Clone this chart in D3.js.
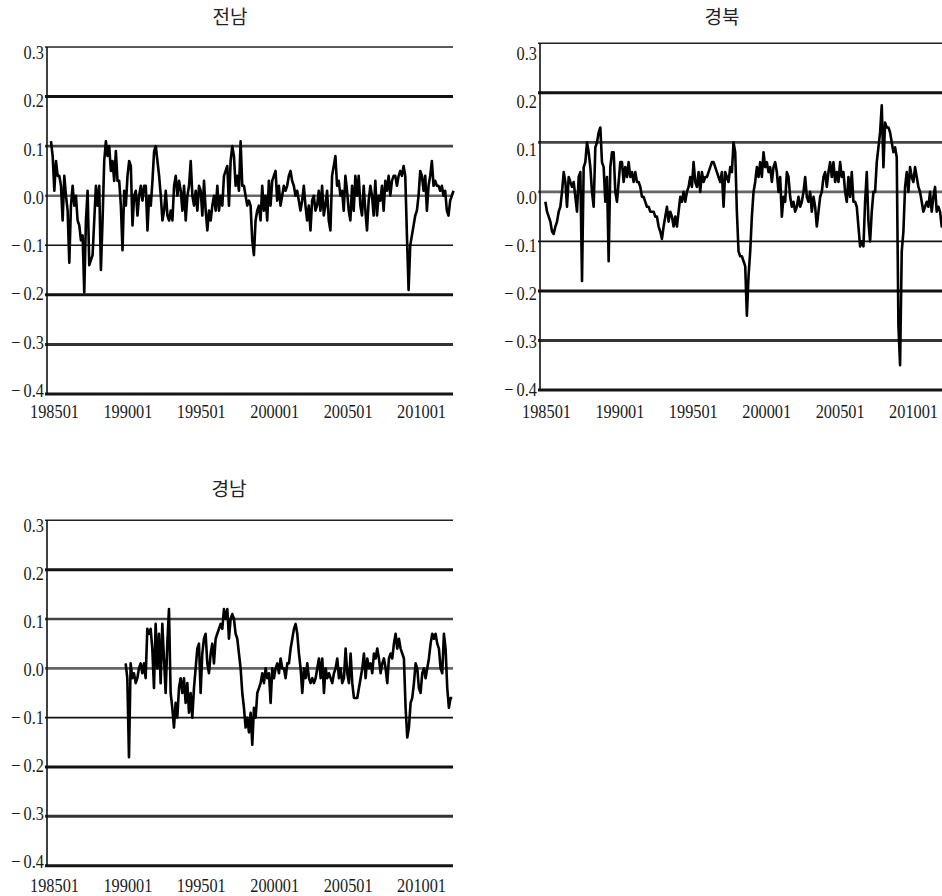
<!DOCTYPE html>
<html>
<head>
<meta charset="utf-8">
<script src="https://cdn.jsdelivr.net/npm/d3@7"></script>
<style>
  body { margin: 0; background: #fff; }
</style>
</head>
<body>
<div id="chart"></div>
<script>
// region names, x tick labels, y ticks
var regions = ['전남', '경북', '경남'];
var xTickLabels = ['198501', '199001', '199501', '200001', '200501', '201001'];
var yTicks = [0.3, 0.2, 0.1, 0.0, -0.1, -0.2, -0.3, -0.4];

// first and last month of each series (points are spread evenly between)
var seriesStart = ['198501', '198503', '199002'];
var seriesEnd = ['201206', '201207', '201205'];

// 전남
var jeonnam = [
  0.11, 0.08, 0.01, 0.07, 0.04, 0.04, 0.02, -0.05, 0.04, 0.0,
  -0.03, -0.135, -0.02, 0.02, -0.02, 0.0, -0.05, -0.06, -0.09, -0.08,
  -0.195, -0.05, 0.01, -0.14, -0.13, -0.12, -0.05, 0.02, -0.02, 0.02,
  -0.15, -0.05, 0.07, 0.11, 0.08, 0.10, 0.05, 0.07, 0.03, 0.09,
  0.03, 0.03, -0.02, -0.11, 0.01, -0.02, 0.04, 0.07, 0.06, -0.06,
  0.0, 0.01, -0.04, 0.0, 0.02, -0.01, 0.02, 0.02, -0.07, 0.0,
  -0.02, 0.03, 0.09, 0.10, 0.07, 0.04, 0.0, -0.05, -0.03, 0.01,
  -0.04, -0.05, -0.03, -0.05, 0.02, 0.04, 0.0, 0.03, 0.01, -0.03,
  0.02, -0.05, 0.0, 0.02, 0.07, 0.0, -0.02, 0.01, -0.03, 0.02,
  0.01, -0.04, 0.03, -0.03, -0.07, -0.03, -0.05, -0.02, 0.0, -0.03,
  0.02, -0.03, 0.0, -0.02, 0.04, 0.05, 0.06, -0.02, 0.07, 0.10,
  0.08, 0.02, 0.04, 0.01, 0.11, 0.02, 0.02, 0.0, -0.02, -0.01,
  -0.02, -0.09, -0.12, -0.05, -0.03, -0.02, -0.05, 0.02, -0.03, 0.0,
  -0.05, 0.03, -0.02, 0.03, 0.04, 0.05, -0.01, 0.02, -0.02, 0.0,
  0.02, 0.01, 0.02, 0.04, 0.05, 0.03, 0.02, 0.0, 0.01, -0.01,
  -0.03, -0.01, 0.02, -0.02, -0.05, -0.02, -0.07, -0.01, 0.0, -0.03,
  -0.02, 0.01, -0.03, 0.02, -0.04, -0.02, 0.01, -0.05, -0.07, 0.04,
  0.06, 0.08, 0.02, 0.03, 0.0, 0.01, -0.03, 0.04, 0.01, -0.03,
  -0.05, 0.02, -0.03, 0.04, 0.0, 0.04, -0.02, -0.04, 0.02, -0.03,
  -0.07, -0.01, 0.02, 0.0, -0.04, 0.03, -0.04, 0.0, -0.01, 0.02,
  -0.03, 0.03, 0.01, 0.04, 0.0, 0.03, 0.04, 0.04, 0.02, 0.04,
  0.05, 0.04, 0.06, 0.04, -0.08, -0.19, -0.10, -0.08, -0.06, -0.04,
  -0.03, 0.0, 0.05, 0.04, 0.01, 0.04, -0.03, 0.02, 0.04, 0.07,
  0.02, 0.03, 0.02, 0.02, 0.01, 0.02, 0.0, 0.01, -0.03, -0.04,
  -0.01, 0.0, 0.01
];

// 경북
var gyeongbuk = [
  -0.02, -0.04, -0.05, -0.06, -0.08, -0.085, -0.07, -0.06, -0.04, -0.03,
  0.0, 0.04, 0.02, -0.03, 0.03, 0.02, 0.01, 0.02, -0.01, -0.04,
  0.03, 0.04, -0.18, 0.05, 0.06, 0.10, 0.08, 0.05, 0.0, -0.03,
  0.09, 0.10, 0.12, 0.13, 0.06, 0.05, -0.02, 0.03, -0.14, 0.05,
  0.08, 0.08, 0.0, -0.02, 0.02, 0.06, 0.06, 0.02, 0.05, 0.03,
  0.06, 0.03, 0.04, 0.02, 0.04, 0.02, 0.02, 0.01, -0.01, -0.01,
  -0.02, -0.03, -0.03, -0.04, -0.04, -0.04, -0.05, -0.05, -0.07, -0.08,
  -0.095, -0.07, -0.05, -0.03, -0.06, -0.04, -0.05, -0.07, -0.05, -0.07,
  -0.04, -0.01, -0.02, 0.0, -0.02, 0.0, 0.01, 0.03, 0.01, 0.06,
  0.02, 0.01, 0.04, 0.0, 0.04, 0.02, 0.03, 0.03, 0.04, 0.05,
  0.06, 0.06, 0.05, 0.04, 0.03, 0.02, 0.04, -0.03, 0.04, 0.03,
  0.02, 0.05, 0.04, 0.10, 0.08, -0.04, -0.12, -0.13, -0.13, -0.14,
  -0.15, -0.25, -0.17, -0.12, -0.05, 0.0, 0.02, 0.05, 0.03, 0.06,
  0.03, 0.08, 0.05, 0.06, 0.04, 0.05, 0.02, 0.05, 0.06, 0.04,
  0.0, 0.03, -0.05, -0.01, -0.02, 0.04, 0.03, -0.01, -0.03, -0.02,
  -0.04, -0.03, -0.01, -0.03, -0.02, 0.0, 0.03, -0.01, -0.02, 0.0,
  -0.04, -0.01, -0.03, -0.07, -0.04, -0.01, 0.0, 0.03, 0.04, 0.01,
  0.04, 0.06, 0.03, 0.06, 0.02, 0.04, 0.02, 0.06, 0.03, 0.04,
  0.0, -0.02, 0.03, -0.01, 0.04, -0.02, -0.02, -0.03, -0.07, -0.11,
  -0.10, -0.11, -0.02, 0.04, -0.06, -0.10, -0.04, 0.0, 0.0, 0.06,
  0.09, 0.12, 0.175, 0.05, 0.14, 0.13, 0.13, 0.12, 0.10, 0.08,
  0.09, 0.07, -0.27, -0.35, -0.12, -0.08, 0.01, 0.04, 0.0, 0.05,
  0.03, 0.02, 0.05, 0.03, 0.01, 0.0, -0.02, -0.04, -0.03, -0.02,
  -0.03, 0.0, -0.04, -0.01, 0.01, -0.04, -0.03, -0.04, -0.07, -0.06,
  -0.07, -0.06
];

// 경남
var gyeongnam = [
  0.01, -0.02, -0.18, 0.01, -0.02, -0.01, -0.03, -0.02, 0.0, 0.01,
  -0.01, 0.01, -0.02, 0.08, 0.07, 0.08, 0.04, -0.04, 0.09, 0.0,
  0.07, -0.03, 0.09, 0.02, -0.05, 0.05, 0.12, -0.05, -0.08, -0.12,
  -0.07, -0.10, -0.04, -0.02, -0.05, -0.02, -0.07, -0.03, -0.09, -0.05,
  -0.10, -0.04, 0.0, 0.04, 0.05, -0.05, 0.03, 0.06, 0.07, 0.01,
  -0.01, 0.03, 0.05, 0.01, 0.06, 0.07, 0.08, 0.09, 0.08, 0.12,
  0.10, 0.12, 0.06, 0.10, 0.11, 0.10, 0.07, 0.06, 0.03, 0.0,
  -0.05, -0.08, -0.12, -0.10, -0.13, -0.09, -0.155, -0.08, -0.10, -0.05,
  -0.04, -0.03, -0.01, -0.03, 0.0, -0.02, -0.01, -0.07, 0.0, -0.02,
  0.0, 0.01, -0.01, 0.02, 0.0, 0.0, -0.02, 0.01, 0.01, 0.04,
  0.06, 0.08, 0.09, 0.07, 0.03, 0.0, -0.05, 0.0, -0.02, 0.01,
  -0.02, -0.03, -0.02, -0.03, -0.02, 0.0, 0.02, -0.02, 0.02, -0.05,
  0.0, -0.02, -0.01, -0.02, -0.03, -0.01, 0.0, 0.02, -0.02, 0.0,
  -0.03, -0.02, 0.04, -0.01, -0.03, 0.03, -0.03, -0.06, -0.06, -0.06,
  -0.04, -0.02, 0.0, 0.03, -0.02, 0.02, 0.0, 0.01, -0.01, 0.03,
  0.02, 0.04, 0.02, -0.01, 0.01, 0.02, 0.0, -0.03, 0.02, 0.03,
  0.02, 0.05, 0.07, 0.04, 0.06, 0.04, 0.03, 0.02, -0.08, -0.14,
  -0.12, -0.07, -0.06, -0.03, 0.01, 0.0, -0.04, -0.05, -0.01, 0.0,
  -0.02, 0.0, 0.02, 0.05, 0.07, 0.06, 0.07, 0.05, 0.04, 0.0,
  -0.01, 0.07, 0.04, -0.04, -0.08, -0.06, -0.06
];

var allSeries = [jeonnam, gyeongbuk, gyeongnam];

// layout of each panel (pixels)
var layout = [
  {axisX: 47, right: 453, x0: 51, yTop: 47, yBot: 394, labTop: 52, labBot: 389.7, titleX: 230, titleY: 17.5, xLabY: 411.5},
  {axisX: 540, right: 946, x0: 543, yTop: 43.3, yBot: 390, labTop: 53, labBot: 389, titleX: 722, titleY: 17.5, xLabY: 411},
  {axisX: 47, right: 453, x0: 51, yTop: 520.3, yBot: 865.7, labTop: 525, labBot: 861, titleX: 229, titleY: 489, xLabY: 885}
];

// gridline look per tick value [width, colour]
var gridLook = {
  '0.3': [1.6, '#222'], '0.2': [3, '#111'], '0.1': [2.6, '#444'], '0': [2.6, '#666'],
  '-0.1': [1.6, '#111'], '-0.2': [3, '#111'], '-0.3': [3, '#333'], '-0.4': [3, '#151515']
};

var W = 942, H = 896;
var serif = '"Liberation Serif", "Times New Roman", serif';
var parseM = d3.timeParse('%Y%m');
var fmtM = d3.timeFormat('%Y%m');
var domainX = [parseM('198501'), parseM('201206')];

var svg = d3.select('#chart').append('svg')
  .attr('width', W)
  .attr('height', H);

function fmtY(v) {
  if (Math.abs(v) < 1e-9) return '0.0';
  return v < 0 ? '\u2212\u2009' + Math.abs(v).toFixed(1) : v.toFixed(1);
}

// tall, narrow digits like the original
function styleLabels(sel) {
  sel.style('font-family', serif)
    .style('font-size', '17px')
    .attr('fill', '#1a1a1a')
    .attr('transform', 'scale(0.96,1.16)');
}

regions.forEach(function(name, k) {
  var L = layout[k];
  var values = allSeries[k];
  var g = svg.append('g').attr('class', 'panel');

  var x = d3.scaleTime()
    .domain(domainX)
    .range([L.x0, L.x0 + 402.5]);
  var y = d3.scaleLinear()
    .domain([0.3, -0.4])
    .range([L.yTop, L.yBot]);
  var yLab = y.copy().range([L.labTop, L.labBot]);

  // spread the points evenly between the first and last month
  var t0 = parseM(seriesStart[k]), t1 = parseM(seriesEnd[k]);
  var tIdx = d3.scaleLinear().domain([0, values.length - 1]).range([+t0, +t1]);
  var data = values.map(function(v, i) {
    return {date: new Date(tIdx(i)), value: v};
  });

  // gridlines
  g.selectAll('line.grid')
    .data(yTicks)
    .enter().append('line')
      .attr('class', 'grid')
      .attr('x1', L.axisX - 2)
      .attr('x2', L.right)
      .attr('y1', function(d) { return y(d); })
      .attr('y2', function(d) { return y(d); })
      .attr('stroke', function(d) { return gridLook[String(+d.toFixed(1))][1]; })
      .attr('stroke-width', function(d) { return gridLook[String(+d.toFixed(1))][0]; });

  // y axis line
  g.append('line')
    .attr('x1', L.axisX).attr('x2', L.axisX)
    .attr('y1', y(0.3)).attr('y2', y(-0.4))
    .attr('stroke', '#111')
    .attr('stroke-width', 1.6);

  // y labels
  var yAxis = d3.axisLeft(yLab)
    .tickValues(yTicks)
    .tickSize(0)
    .tickPadding(0)
    .tickFormat(fmtY);
  var ya = g.append('g')
    .attr('transform', 'translate(' + [L.axisX - 3, 0] + ')')
    .call(yAxis);
  ya.select('.domain').remove();
  ya.selectAll('text')
    .call(styleLabels)
    .attr('x', 0)
    .attr('dy', '0.34em');

  // x labels
  var xAxis = d3.axisBottom(x)
    .tickValues(xTickLabels.map(parseM))
    .tickSize(0)
    .tickFormat(fmtM);
  var xa = g.append('g')
    .attr('transform', 'translate(' + [3, L.xLabY] + ')')
    .call(xAxis);
  xa.select('.domain').remove();
  xa.selectAll('text')
    .call(styleLabels)
    .attr('y', 0)
    .attr('dy', '0.34em');

  // series line
  var line = d3.line()
    .x(function(d) { return x(d.date); })
    .y(function(d) { return y(d.value); });
  g.append('path')
    .datum(data)
    .attr('fill', 'none')
    .attr('stroke', '#000')
    .attr('stroke-width', 2.6)
    .attr('stroke-linejoin', 'round')
    .attr('d', line);

  // title
  g.append('text')
    .attr('x', L.titleX)
    .attr('y', L.titleY)
    .attr('dy', '0.35em')
    .attr('text-anchor', 'middle')
    .style('font-family', '"Noto Sans CJK KR", sans-serif')
    .style('font-size', '19px')
    .attr('fill', '#222')
    .text(name);
});
</script>
</body>
</html>
